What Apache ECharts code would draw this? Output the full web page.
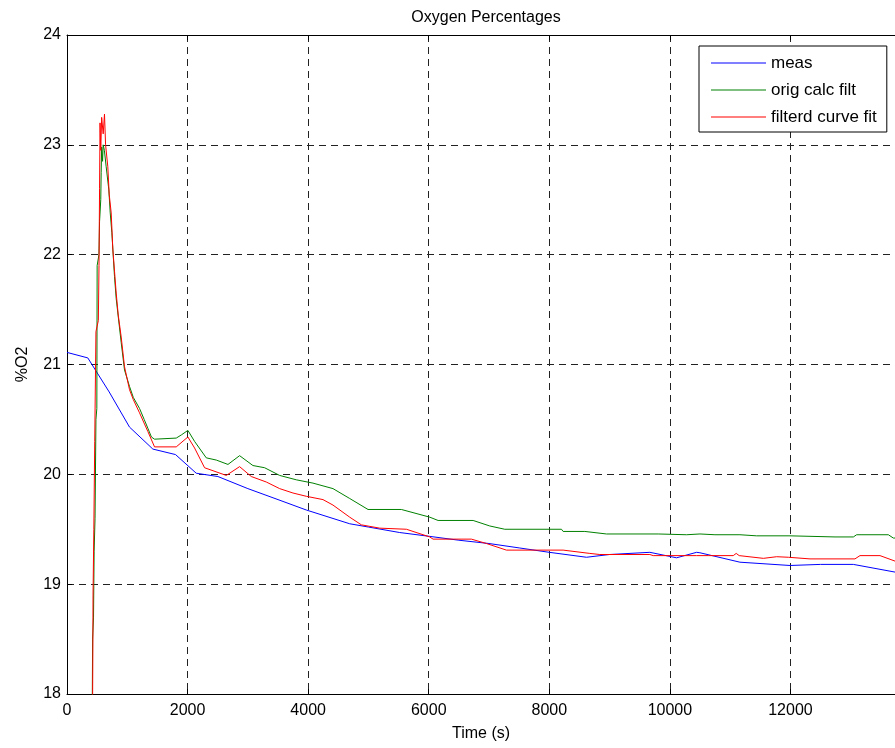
<!DOCTYPE html>
<html>
<head>
<meta charset="utf-8">
<script src="https://cdn.jsdelivr.net/npm/echarts@6/dist/echarts.min.js"></script>
<style>
  html, body { margin: 0; padding: 0; background: #fff; }
  #chart { width: 895px; height: 748px; }
</style>
</head>
<body>
<div id="chart"></div>
<script>
// Oxygen readings over time: [time (s), %O2]
const measData = [
  [0, 21.11], [345, 21.06], [700, 20.75], [1037, 20.43], [1424, 20.23], [1800, 20.18],
  [2144, 20.01], [2503, 19.98], [3000, 19.87], [3500, 19.77], [3970, 19.675], [4689, 19.55],
  [5000, 19.52], [5519, 19.47], [6017, 19.435], [6500, 19.40], [7000, 19.37], [7500, 19.33],
  [8000, 19.29], [8617, 19.245], [9000, 19.27], [9668, 19.29], [10111, 19.24], [10443, 19.29],
  [10498, 19.286], [11162, 19.2], [11992, 19.17], [12500, 19.18], [13043, 19.18], [13734, 19.11]
];

const origCalcData = [
  [415, 17.5], [425, 18.5], [440, 18.7], [450, 19.3], [465, 19.6], [480, 20.5], [495, 20.6],
  [500, 21.9], [530, 22.0], [540, 22.3], [560, 22.5], [567, 22.75], [575, 22.98], [590, 22.85],
  [600, 23.0], [620, 22.95], [650, 22.8], [694, 22.59], [717, 22.38], [744, 22.2], [788, 21.8],
  [816, 21.6], [899, 21.2], [954, 20.95], [1037, 20.8], [1100, 20.7], [1203, 20.6], [1280, 20.5],
  [1341, 20.42], [1400, 20.34], [1452, 20.32], [1812, 20.33], [1900, 20.36], [2005, 20.40],
  [2116, 20.30], [2310, 20.15], [2476, 20.13], [2670, 20.09], [2863, 20.17], [3084, 20.08],
  [3278, 20.06], [3527, 19.99], [3804, 19.95], [4080, 19.92], [4412, 19.87], [4689, 19.78],
  [4993, 19.68], [5546, 19.68], [6017, 19.61], [6155, 19.58], [6736, 19.58], [7012, 19.53],
  [7261, 19.50], [8202, 19.50], [8229, 19.48], [8589, 19.48], [8949, 19.457], [9806, 19.457],
  [9834, 19.45], [10277, 19.45], [10304, 19.46], [10498, 19.457], [10747, 19.45], [11162, 19.45],
  [11439, 19.44], [11992, 19.44], [12739, 19.43], [13043, 19.43], [13098, 19.45], [13624, 19.45],
  [13706, 19.42], [13734, 19.42]
];

const filteredFitData = [
  [420, 17.5], [428, 18.3], [432, 18.9], [445, 19.5], [460, 20.3], [480, 21.3], [520, 21.4],
  [531, 21.9], [540, 22.6], [548, 23.2], [560, 22.95], [575, 23.25], [600, 23.1], [622, 23.28],
  [640, 23.0], [677, 22.8], [700, 22.55], [733, 22.38], [760, 22.05], [788, 21.85], [816, 21.65],
  [850, 21.45], [899, 21.25], [954, 20.98], [1037, 20.77], [1100, 20.68], [1203, 20.56],
  [1341, 20.39], [1452, 20.25], [1812, 20.25], [2005, 20.34], [2116, 20.24], [2282, 20.06],
  [2642, 19.99], [2863, 20.07], [3057, 19.98], [3306, 19.93], [3527, 19.87], [3748, 19.83],
  [3970, 19.80], [4246, 19.77], [4412, 19.72], [4689, 19.61], [4883, 19.54], [5187, 19.51],
  [5630, 19.50], [6017, 19.43], [6072, 19.41], [6708, 19.41], [6957, 19.37], [7289, 19.31],
  [8229, 19.31], [8672, 19.28], [8838, 19.27], [9668, 19.27], [9723, 19.26], [10443, 19.26],
  [10470, 19.27], [10636, 19.26], [11051, 19.26], [11100, 19.28], [11150, 19.26], [11550, 19.235],
  [11771, 19.25], [11964, 19.245], [12324, 19.23], [13070, 19.23], [13153, 19.26], [13485, 19.26],
  [13734, 19.21]
];

const seriesNames = ['meas', 'orig calc filt', 'filterd curve fit'];
const seriesColors = ['#0000ff', '#008000', '#ff0000'];

const timeMin = 0, timeMax = 13734, timeStep = 2000;
const o2Min = 18, o2Max = 24, o2Step = 1;

const FONT = 'Liberation Sans, Arial, Helvetica, sans-serif';
const gridDash = { color: '#222', type: [7, 5], width: 1 };

const chart = echarts.init(document.getElementById('chart'), null, { renderer: 'canvas' });

chart.setOption({
  backgroundColor: '#fff',
  animation: false,
  title: {
    text: 'Oxygen Percentages',
    left: 481, top: 5, textAlign: 'center',
    textStyle: { fontFamily: FONT, fontSize: 16, fontWeight: 'normal', color: '#000' }
  },
  legend: {
    data: seriesNames.map((n, i) => ({ name: n, itemStyle: { color: seriesColors[i] } })),
    orient: 'vertical',
    left: 699, top: 46,
    padding: [8, 10, 6, 12],
    icon: 'rect',
    itemWidth: 55, itemHeight: 1, itemGap: 9,
    backgroundColor: '#fff',
    borderColor: '#000', borderWidth: 1,
    textStyle: { fontFamily: FONT, fontSize: 17, color: '#000', lineHeight: 18 }
  },
  grid: { left: 67, right: 0, top: 35, bottom: 54, containLabel: false },
  xAxis: [
    {
      type: 'value', min: timeMin, max: timeMax, interval: timeStep,
      name: 'Time (s)', nameLocation: 'middle', nameGap: 32,
      nameTextStyle: { fontFamily: FONT, fontSize: 16, color: '#000' },
      axisLine: { show: true, onZero: false, lineStyle: { color: '#000', width: 1 } },
      axisTick: { show: true, inside: true, length: 5, lineStyle: { color: '#000' } },
      axisLabel: {
        fontFamily: FONT, fontSize: 16, color: '#000', margin: 9, showMaxLabel: false,
        formatter: v => String(v)
      },
      splitLine: { show: true, lineStyle: gridDash }
    },
    {
      type: 'value', position: 'top', min: timeMin, max: timeMax, interval: timeStep,
      axisLine: { show: true, onZero: false, lineStyle: { color: '#000', width: 1 } },
      axisTick: { show: true, inside: true, length: 5, lineStyle: { color: '#000' } },
      axisLabel: { show: false },
      splitLine: { show: false }
    }
  ],
  yAxis: {
    type: 'value', min: o2Min, max: o2Max, interval: o2Step,
    name: '%O2', nameLocation: 'middle', nameGap: 36, nameRotate: 90,
    nameTextStyle: { fontFamily: FONT, fontSize: 16, color: '#000' },
    axisLine: { show: true, lineStyle: { color: '#000', width: 1 } },
    axisTick: { show: true, inside: true, length: 5, lineStyle: { color: '#000' } },
    axisLabel: { fontFamily: FONT, fontSize: 16, color: '#000', margin: 6 },
    splitLine: { show: true, lineStyle: gridDash }
  },
  series: [measData, origCalcData, filteredFitData].map((d, i) => ({
    name: seriesNames[i],
    type: 'line',
    data: d,
    symbol: 'none',
    clip: true,
    lineStyle: { color: seriesColors[i], width: 1 },
    itemStyle: { color: seriesColors[i] },
    z: 3 + i
  }))
});
</script>
</body>
</html>
